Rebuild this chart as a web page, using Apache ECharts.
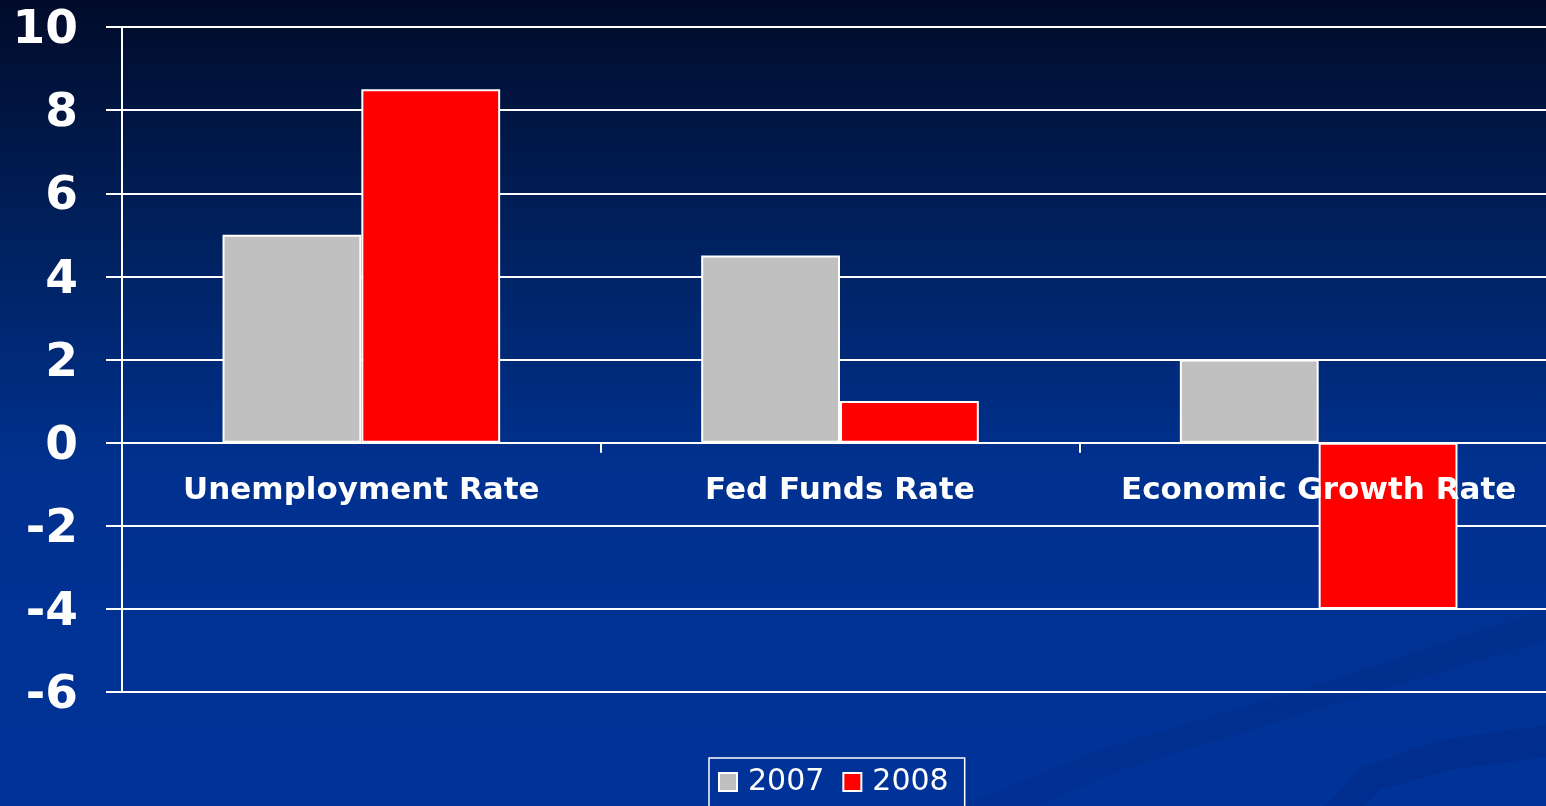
<!DOCTYPE html>
<html>
<head>
<meta charset="utf-8">
<script src="https://cdn.jsdelivr.net/npm/echarts@6/dist/echarts.min.js"></script>
<style>
  html, body { margin: 0; padding: 0; }
  #chart { width: 1546px; height: 806px; }
</style>
</head>
<body>
<div id="chart"></div>
<script>
  // data
  var categories = ['Unemployment Rate', 'Fed Funds Rate', 'Economic Growth Rate'];
  var values2007 = [5, 4.5, 2];
  var values2008 = [8.5, 1, -4];
  var seriesNames = ['2007', '2008'];
  var yMin = -6, yMax = 10;

  var myChart = echarts.init(document.getElementById('chart'));

  // plot box (px) - the plot runs a bit past the right edge
  var gridTop = 27, gridHeight = 665;
  // move the category axis (line + labels) up to value 0
  var zeroShift = gridHeight * (0 - yMin) / (yMax - yMin);

  var option = {
    backgroundColor: {
      type: 'linear', x: 0, y: 0, x2: 0, y2: 1,
      colorStops: [
        { offset: 0, color: '#010b29' },
        { offset: 0.3, color: '#00215f' },
        { offset: 0.58, color: '#00318f' },
        { offset: 1, color: '#003399' }
      ]
    },
    // faint swooshes bottom right
    graphic: [
      {
        type: 'polygon', z: -1, silent: true,
        shape: { points: [[960, 806], [1100, 750], [1300, 690], [1546, 610], [1546, 640], [1300, 715], [1120, 770], [1040, 806]] },
        style: { fill: 'rgba(0,20,80,0.09)' }
      },
      {
        type: 'polygon', z: -1, silent: true,
        shape: { points: [[1325, 806], [1360, 768], [1440, 740], [1546, 725], [1546, 757], [1450, 770], [1380, 790], [1365, 806]] },
        style: { fill: 'rgba(0,20,80,0.12)' }
      }
    ],
    grid: {
      left: 122,
      top: gridTop,
      width: 1436,
      height: gridHeight,
      containLabel: false,
      outerBoundsMode: 'none'
    },
    legend: {
      data: seriesNames,
      left: 709,
      top: 758,
      icon: 'rect',
      padding: [9, 16, 24, 9],
      itemGap: 18,
      itemWidth: 18,
      itemHeight: 18,
      borderColor: '#ffffff',
      borderWidth: 1.5,
      itemStyle: { borderColor: '#ffffff', borderWidth: 2 },
      textStyle: {
        color: '#ffffff',
        fontSize: 30,
        fontFamily: 'DejaVu Sans',
        padding: [0, 0, 0, 6]
      }
    },
    xAxis: {
      type: 'category',
      data: categories,
      z: 5,
      offset: -zeroShift,
      axisLine: { onZero: false, lineStyle: { color: '#ffffff', width: 2 } },
      axisTick: { show: true, length: 10, lineStyle: { color: '#ffffff', width: 2 } },
      axisLabel: {
        color: '#ffffff',
        fontSize: 31,
        fontWeight: 'bold',
        fontFamily: 'DejaVu Sans',
        margin: 33,
        interval: 0
      },
      splitLine: { show: false }
    },
    yAxis: {
      type: 'value',
      min: yMin,
      max: yMax,
      interval: 2,
      axisLine: { show: true, lineStyle: { color: '#ffffff', width: 2 } },
      axisTick: { show: true, length: 16, lineStyle: { color: '#ffffff', width: 2 } },
      axisLabel: {
        margin: 44,
        formatter: '{n|{value}}',
        rich: {
          n: {
            color: '#ffffff',
            fontSize: 47,
            fontWeight: 'bold',
            fontFamily: 'DejaVu Sans',
            padding: [8, 0, 0, 0]
          }
        }
      },
      splitLine: { show: true, lineStyle: { color: '#ffffff', width: 2 } }
    },
    series: [
      {
        name: seriesNames[0],
        type: 'bar',
        data: values2007,
        barGap: '0%',
        barCategoryGap: '42%',
        itemStyle: { color: '#c0c0c0', borderColor: '#ffffff', borderWidth: 2 }
      },
      {
        name: seriesNames[1],
        type: 'bar',
        data: values2008,
        itemStyle: { color: '#ff0000', borderColor: '#ffffff', borderWidth: 2 }
      }
    ]
  };

  myChart.setOption(option);
</script>
</body>
</html>
